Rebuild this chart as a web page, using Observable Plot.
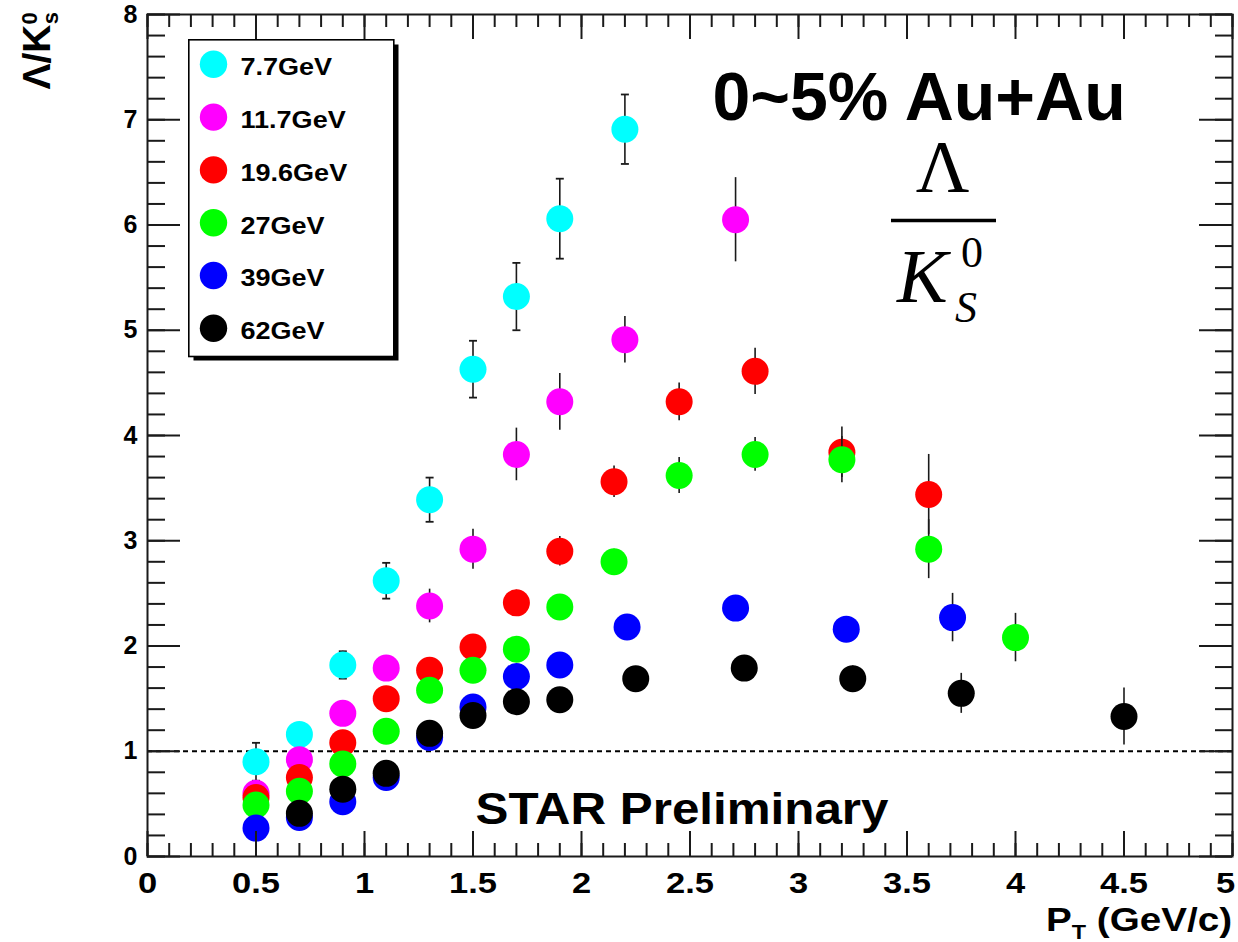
<!DOCTYPE html>
<html><head><meta charset="utf-8">
<script src="https://cdn.jsdelivr.net/npm/d3@7"></script>
<script src="https://cdn.jsdelivr.net/npm/@observablehq/plot@0.6"></script>
<style>
html,body{margin:0;padding:0;background:#fff;}
#chart{position:relative;width:1238px;height:942px;overflow:hidden;}
svg{overflow:visible;}
</style></head><body><div id="chart"></div>
<script>
// ---- data ----
const energies = ["7.7GeV", "11.7GeV", "19.6GeV", "27GeV", "39GeV", "62GeV"];
const colors = ["#00ffff", "#ff00ff", "#ff0000", "#00ff00", "#0000ff", "#000000"];

const pt77    = [0.5, 0.7, 0.9, 1.1, 1.3, 1.5, 1.7, 1.9, 2.2];
const ratio77 = [0.90, 1.16, 1.82, 2.62, 3.39, 4.63, 5.32, 6.06, 6.91];
const err77   = [0.18, 0.10, 0.13, 0.17, 0.21, 0.27, 0.32, 0.38, 0.33];

const pt117    = [0.5, 0.7, 0.9, 1.1, 1.3, 1.5, 1.7, 1.9, 2.2, 2.71];
const ratio117 = [0.60, 0.92, 1.36, 1.79, 2.38, 2.92, 3.82, 4.32, 4.91, 6.05];
const err117   = [0.05, 0.07, 0.09, 0.11, 0.16, 0.19, 0.25, 0.27, 0.22, 0.40];

const pt196    = [0.5, 0.7, 0.9, 1.1, 1.3, 1.5, 1.7, 1.9, 2.15, 2.45, 2.8, 3.2, 3.6];
const ratio196 = [0.56, 0.75, 1.08, 1.50, 1.77, 1.99, 2.41, 2.90, 3.56, 4.32, 4.61, 3.84, 3.44];
const err196   = [0.05, 0.06, 0.07, 0.08, 0.09, 0.10, 0.12, 0.14, 0.15, 0.18, 0.22, 0.24, 0.38];

const pt27    = [0.5, 0.7, 0.9, 1.1, 1.3, 1.5, 1.7, 1.9, 2.15, 2.45, 2.8, 3.2, 3.6, 4.0];
const ratio27 = [0.49, 0.62, 0.88, 1.19, 1.58, 1.77, 1.97, 2.37, 2.80, 3.62, 3.82, 3.77, 2.92, 2.08];
const err27   = [0.04, 0.05, 0.06, 0.07, 0.08, 0.09, 0.10, 0.11, 0.12, 0.17, 0.16, 0.22, 0.28, 0.23];

const pt39    = [0.5, 0.7, 0.9, 1.1, 1.3, 1.5, 1.7, 1.9, 2.21, 2.71, 3.22, 3.71];
const ratio39 = [0.27, 0.37, 0.52, 0.75, 1.13, 1.42, 1.71, 1.82, 2.18, 2.36, 2.16, 2.27];
const err39   = [0.02, 0.03, 0.04, 0.05, 0.06, 0.07, 0.08, 0.09, 0.10, 0.11, 0.12, 0.23];

const pt62    = [0.7, 0.9, 1.1, 1.3, 1.5, 1.7, 1.9, 2.25, 2.75, 3.25, 3.75, 4.5];
const ratio62 = [0.41, 0.64, 0.79, 1.17, 1.34, 1.47, 1.49, 1.69, 1.79, 1.69, 1.55, 1.33];
const err62   = [0.02, 0.03, 0.04, 0.05, 0.06, 0.07, 0.08, 0.10, 0.11, 0.12, 0.19, 0.27];

const xMajorTicks = [0, 0.5, 1, 1.5, 2, 2.5, 3, 3.5, 4, 4.5, 5];
const xTickLabels = ["0", "0.5", "1", "1.5", "2", "2.5", "3", "3.5", "4", "4.5", "5"];
const yMajorTicks = [0, 1, 2, 3, 4, 5, 6, 7, 8];
const yTickLabels = ["0", "1", "2", "3", "4", "5", "6", "7", "8"];
const xMinorTicks = d3.ticks(0, 5, 50);
const yMinorTicks = d3.ticks(0, 8, 40);

const titleText = "0~5% Au+Au";
const starText = "STAR Preliminary";

// ---- layout ----
const W = 1238, H = 942, mL = 147, mR = 6, mT = 14, mB = 86;
const plotW = W - mL - mR, plotH = H - mT - mB;
const SANS = "'Liberation Sans', Arial, Helvetica, sans-serif";
const SERIF = "'Liberation Serif', 'Times New Roman', serif";
const INK = "#1a1a1a";

const seriesPt = [pt77, pt117, pt196, pt27, pt39, pt62];
const seriesRatio = [ratio77, ratio117, ratio196, ratio27, ratio39, ratio62];
const seriesErr = [err77, err117, err196, err27, err39, err62];
const rows = i => seriesPt[i].map((x, j) => ({series: energies[i], x, y: seriesRatio[i][j], e: seriesErr[i][j]}));

const capSymbol = {draw(ctx, size) { const r = Math.sqrt(size / Math.PI); ctx.moveTo(-r, 0); ctx.lineTo(r, 0); }};

const marks = [];
// dashed reference line at 1
marks.push(Plot.ruleY([1], {y: d => d, stroke: "#000", strokeWidth: 2, strokeDasharray: "5,4"}));

// data series: error bars then markers, series by series
energies.forEach((name, i) => {
  const d = rows(i);
  marks.push(Plot.ruleX(d, {x: "x", y1: r => r.y - r.e, y2: r => r.y + r.e, stroke: INK, strokeWidth: 1.6}));
  if (i === 0) {
    marks.push(Plot.dot(d, {x: "x", y: r => r.y + r.e, symbol: capSymbol, r: 4, fill: "none", stroke: INK, strokeWidth: 1.8}));
    marks.push(Plot.dot(d, {x: "x", y: r => r.y - r.e, symbol: capSymbol, r: 4, fill: "none", stroke: INK, strokeWidth: 1.8}));
  }
  marks.push(Plot.dot(d, {x: "x", y: "y", r: 13.5, fill: colors[i], stroke: "none"}));
});

// inward ticks on all four sides
const tk = {stroke: INK, strokeWidth: 2};
marks.push(Plot.ruleX(xMinorTicks, {x: d => d, insetTop: plotH - 13, ...tk}));
marks.push(Plot.ruleX(xMinorTicks, {x: d => d, insetBottom: plotH - 13, ...tk}));
marks.push(Plot.ruleX(xMajorTicks, {x: d => d, insetTop: plotH - 25, ...tk}));
marks.push(Plot.ruleX(xMajorTicks, {x: d => d, insetBottom: plotH - 25, ...tk}));
marks.push(Plot.ruleY(yMinorTicks, {y: d => d, insetRight: plotW - 18, ...tk}));
marks.push(Plot.ruleY(yMinorTicks, {y: d => d, insetLeft: plotW - 17, ...tk}));
marks.push(Plot.ruleY(yMajorTicks, {y: d => d, insetRight: plotW - 33, ...tk}));
marks.push(Plot.ruleY(yMajorTicks, {y: d => d, insetLeft: plotW - 33, ...tk}));
marks.push(Plot.frame({stroke: INK, strokeWidth: 2}));

// axes (tick labels)
marks.push(Plot.axisX(xMajorTicks, {tickSize: 0, tickPadding: 15, fontSize: 30, fontWeight: "bold", label: null,
  tickFormat: d => xTickLabels[xMajorTicks.indexOf(d)]}));
marks.push(Plot.axisY(yMajorTicks, {tickSize: 0, tickPadding: 10, fontSize: 25, fontWeight: "bold", label: null,
  tickFormat: d => yTickLabels[yMajorTicks.indexOf(d)]}));

// legend box with shadow
marks.push(Plot.frame({insetLeft: 46, insetTop: 30, insetRight: 834, insetBottom: 496, fill: "#000", stroke: "none"}));
marks.push(Plot.frame({insetLeft: 41.3, insetTop: 25.3, insetRight: 838.7, insetBottom: 500, fill: "#fff", stroke: "#000", strokeWidth: 1.6}));
energies.forEach((name, i) => {
  marks.push(Plot.dot([name], {frameAnchor: "top-left", dx: 66, dy: 49.8 + i * 52.8, r: 13.7, fill: colors[i], stroke: "none"}));
  marks.push(Plot.text([name], {text: d => d, frameAnchor: "top-left", dx: 93, dy: 53.3 + i * 52.8, textAnchor: "start",
    lineAnchor: "middle", fontSize: 23.3, fontWeight: "bold", fill: "#000"}));
});

// annotations
marks.push(Plot.text([titleText], {text: d => d, frameAnchor: "top-left", dx: 565, dy: 119 - 0.32 * 68 - mT,
  textAnchor: "start", lineAnchor: "middle", fontSize: 68, fontWeight: "bold", fill: "#000"}));
marks.push(Plot.text([starText], {text: d => d, frameAnchor: "top-left", dx: 328, dy: 823 - 0.32 * 44 - mT,
  textAnchor: "start", lineAnchor: "middle", fontSize: 44, fontWeight: "bold", fill: "#000"}));

const chart = Plot.plot({
  width: W, height: H,
  marginLeft: mL, marginRight: mR, marginTop: mT, marginBottom: mB,
  x: {domain: [0, 5]},
  y: {domain: [0, 8]},
  style: {fontFamily: SANS, background: "#fff", color: "#000", overflow: "visible"},
  marks
});
document.getElementById("chart").appendChild(chart);

// stretch ROOT-style text horizontally
function stretchEl(el, k, target) {
  const w = el.getComputedTextLength();
  el.setAttribute("textLength", target || w * k);
  el.setAttribute("lengthAdjust", "spacingAndGlyphs");
}
chart.querySelectorAll('g[aria-label="x-axis tick label"] text').forEach(el => {
  stretchEl(el, 1.15);
  if (el.textContent === xTickLabels[xTickLabels.length - 1]) el.setAttribute("dx", -7); // keep last label inside the picture
});
chart.querySelectorAll("text").forEach(el => {
  const t = el.textContent;
  if (energies.includes(t)) stretchEl(el, 1.16);
  else if (t === starText) stretchEl(el, 1, 413);
});

const svg = d3.select(chart);

// y axis title: Λ/K_s^0 (rotated)
const yl = svg.append("text")
  .attr("transform", "translate(50,12) rotate(-90)")
  .attr("text-anchor", "end")
  .attr("font-family", SANS).attr("font-weight", "bold").attr("font-size", 39).attr("fill", "#000");
yl.append("tspan").text("Λ/K");
yl.append("tspan").attr("font-size", 22).attr("dy", -13).text("0");
yl.append("tspan").attr("font-size", 22).attr("dx", -12).attr("dy", 21).text("s");

// x axis title: P_T (GeV/c)
const xl = svg.append("text")
  .attr("x", 1232).attr("y", 931).attr("text-anchor", "end")
  .attr("font-family", SANS).attr("font-weight", "bold").attr("font-size", 33).attr("fill", "#000");
xl.append("tspan").text("P");
xl.append("tspan").attr("font-size", 20).attr("dy", 8).text("T");
xl.append("tspan").attr("dy", -8).text(" (GeV/c)");
xl.attr("textLength", 186).attr("lengthAdjust", "spacingAndGlyphs");

// Λ / K_S^0 fraction
const fr = svg.append("g").attr("font-family", SERIF).attr("fill", "#000").attr("text-anchor", "start");
fr.append("text").attr("x", 942.5).attr("y", 192).attr("text-anchor", "middle").attr("font-size", 74).text("Λ");
fr.append("line").attr("x1", 891).attr("x2", 996).attr("y1", 220.5).attr("y2", 220.5).attr("stroke", "#000").attr("stroke-width", 3.5);
fr.append("text").attr("x", 897).attr("y", 302).attr("text-anchor", "start").attr("font-size", 76).attr("font-style", "italic").text("K");
fr.append("text").attr("x", 961).attr("y", 267).attr("text-anchor", "start").attr("font-size", 44).text("0");
fr.append("text").attr("x", 955).attr("y", 322).attr("text-anchor", "start").attr("font-size", 44).attr("font-style", "italic").text("S");
</script>
</body></html>
